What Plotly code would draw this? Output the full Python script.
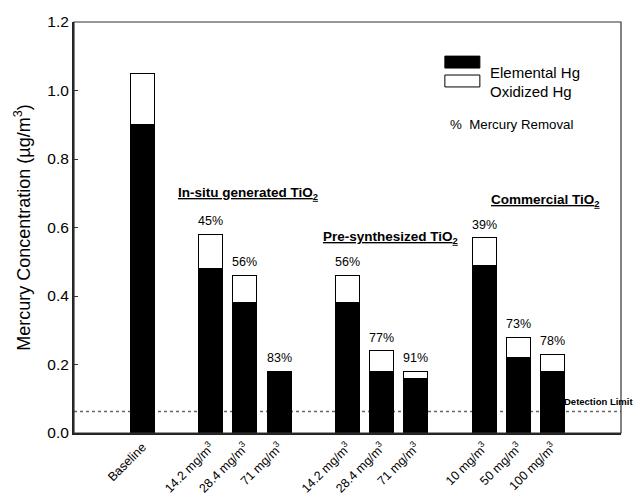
import plotly.graph_objects as go

# ---- data ----
positions = [0, 2, 3, 4, 6, 7, 8, 10, 11, 12]
tick_labels = ["Baseline", "14.2 mg/m<sup>3</sup>", "28.4 mg/m<sup>3</sup>", "71 mg/m<sup>3</sup>",
               "14.2 mg/m<sup>3</sup>", "28.4 mg/m<sup>3</sup>", "71 mg/m<sup>3</sup>",
               "10 mg/m<sup>3</sup>", "50 mg/m<sup>3</sup>", "100 mg/m<sup>3</sup>"]
elemental = [0.90, 0.48, 0.38, 0.18, 0.38, 0.18, 0.16, 0.49, 0.22, 0.18]
oxidized = [0.15, 0.10, 0.08, 0.00, 0.08, 0.06, 0.02, 0.08, 0.06, 0.05]
removal = ["", "45%", "56%", "83%", "56%", "77%", "91%", "39%", "73%", "78%"]
detection_limit = 0.063
groups = ["In-situ generated TiO<sub>2</sub>", "Pre-synthesized TiO<sub>2</sub>", "Commercial TiO<sub>2</sub>"]
group_x = [3.1, 7.27, 11.8]
group_y = [0.70, 0.571, 0.68]

FONT = "Liberation Sans, Arial, sans-serif"

fig = go.Figure()
fig.add_bar(x=positions, y=elemental, name="Elemental Hg", width=0.7,
            marker=dict(color="black", line=dict(color="black", width=1)))
fig.add_bar(x=positions, y=oxidized, name="Oxidized Hg", width=0.7,
            marker=dict(color="white", line=dict(color="black", width=1)))

annotations = []
for x, e, o, r in zip(positions, elemental, oxidized, removal):
    if r:
        annotations.append(dict(x=x, y=e + o, text=r, showarrow=False, yanchor="bottom",
                                yshift=4, font=dict(size=12.5, color="black", family=FONT)))
for g, gx, gy in zip(groups, group_x, group_y):
    annotations.append(dict(x=gx, y=gy, text="<b><u>" + g + "</u></b>", showarrow=False,
                            font=dict(size=13.5, color="black", family=FONT)))

# detection limit label
annotations.append(dict(xref="paper", x=0.895, y=detection_limit, xanchor="left", yanchor="bottom",
                        yshift=2, xshift=-2, text="<b>Detection Limit</b>", showarrow=False,
                        font=dict(size=9.5, color="black", family=FONT)))
# legend text
annotations += [
    dict(xref="paper", yref="paper", x=0.757, y=0.903, xanchor="left", text="Elemental Hg",
         showarrow=False, font=dict(size=15, color="black", family=FONT)),
    dict(xref="paper", yref="paper", x=0.757, y=0.856, xanchor="left", text="Oxidized Hg",
         showarrow=False, font=dict(size=15, color="black", family=FONT)),
    dict(xref="paper", yref="paper", x=0.684, y=0.774, xanchor="left", text="%  Mercury Removal",
         showarrow=False, font=dict(size=13.3, color="black", family=FONT)),
]

shapes = [
    dict(type="line", xref="paper", x0=0, x1=1, yref="y", y0=detection_limit, y1=detection_limit,
         line=dict(color="#666666", width=1.5, dash="dot"), layer="below"),
    dict(type="rect", xref="paper", yref="paper", x0=0, x1=1, y0=0, y1=1,
         line=dict(color="#333333", width=1.2)),
    dict(type="rect", xref="paper", yref="paper", x0=0.678, x1=0.742, y0=0.888, y1=0.917,
         fillcolor="black", line=dict(color="black", width=1)),
    dict(type="rect", xref="paper", yref="paper", x0=0.678, x1=0.742, y0=0.842, y1=0.871,
         fillcolor="white", line=dict(color="black", width=1)),
]

fig.update_layout(
    barmode="stack", showlegend=False, width=634, height=495,
    margin=dict(l=74, r=13, t=22, b=62, autoexpand=False),
    paper_bgcolor="white", plot_bgcolor="white",
    font=dict(family=FONT, color="black"),
    annotations=annotations, shapes=shapes,
    xaxis=dict(range=[-2, 14], tickvals=positions, ticktext=tick_labels, tickangle=-45,
               showgrid=False, zeroline=False, showline=True, linecolor="#222222", linewidth=2,
               ticks="", automargin=False, tickfont=dict(size=12.5, family=FONT, color="black")),
    yaxis=dict(range=[0, 1.2], tickvals=[0, 0.2, 0.4, 0.6, 0.8, 1.0, 1.2],
               ticktext=["0.0", "0.2", "0.4", "0.6", "0.8", "1.0", "1.2"],
               showgrid=False, zeroline=False, showline=True, linecolor="#222222", linewidth=2,
               ticks="inside", ticklen=4, tickcolor="#333333", tickwidth=1,
               automargin=False, tickfont=dict(size=15.5, family=FONT, color="black"),
               title=dict(text="Mercury Concentration (µg/m<sup>3</sup>)", standoff=12,
                          font=dict(size=18, family=FONT, color="black"))),
)

fig.write_html("out.html", config={"displayModeBar": False},
               post_script="document.body.style.margin='0';")
